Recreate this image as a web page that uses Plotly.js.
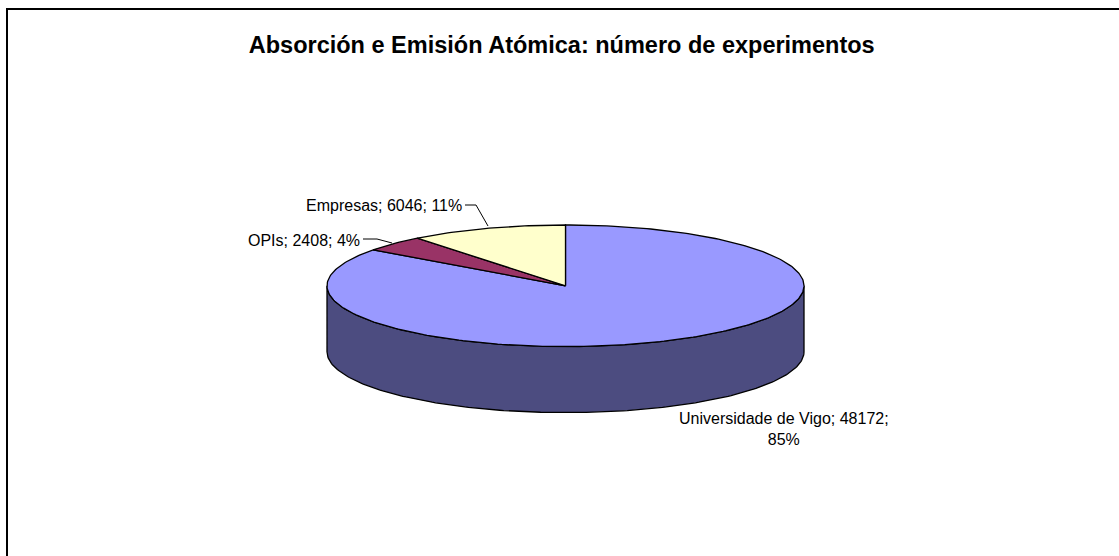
<!DOCTYPE html>
<html>
<head>
<meta charset="utf-8">
<script src="https://cdn.plot.ly/plotly-3.0.1.min.js"></script>
<style>html,body{margin:0;padding:0;background:#fff;}#chart{width:1119px;height:556px;}</style>
</head>
<body>
<div id="chart"></div>
<script>
// ---- data ----
const categories = ['Universidade de Vigo', 'OPIs', 'Empresas'];
const values = [48172, 2408, 6046];
const titleText = 'Absorción e Emisión Atómica: número de experimentos';

// ---- style / geometry ----
const topColors = ['#9999FF', '#993366', '#FFFFCC'];
const sideColors = ['#4C4C80', '#4D1A33', '#80806A'];
const CX = 565.5, CY = 285.8, RX = 238.5, RY = 60.8, DEPTH = 66;
const FONT = 'Liberation Sans, Arial, sans-serif';

function pt(theta, dy) {
  const r = theta * Math.PI / 180;
  return [CX + RX * Math.sin(r), CY - RY * Math.cos(r) + (dy || 0)];
}
function arc(a0, a1, dy) {
  const n = Math.max(2, Math.ceil(Math.abs(a1 - a0) / 1));
  const xs = [], ys = [];
  for (let i = 0; i <= n; i++) {
    const p = pt(a0 + (a1 - a0) * i / n, dy);
    xs.push(p[0]); ys.push(p[1]);
  }
  return [xs, ys];
}

const total = values.reduce((a, b) => a + b, 0);
const starts = [], ends = [];
let acc = 0;
values.forEach(v => { starts.push(acc / total * 360); acc += v; ends.push(acc / total * 360); });

const traces = [];
// sides (front half: 90..270 deg)
values.forEach((v, i) => {
  const s = Math.max(starts[i], 90), e = Math.min(ends[i], 270);
  if (e <= s) return;
  const [tx, ty] = arc(s, e, 0);
  const [bx, by] = arc(e, s, DEPTH);
  traces.push({
    type: 'scatter', mode: 'lines', x: tx.concat(bx, [tx[0]]), y: ty.concat(by, [ty[0]]),
    fill: 'toself', fillcolor: sideColors[i], line: {color: '#000', width: 1.3},
    hoverinfo: 'skip', showlegend: false
  });
});
// top faces
values.forEach((v, i) => {
  const [ax, ay] = arc(starts[i], ends[i], 0);
  traces.push({
    type: 'scatter', mode: 'lines', x: [CX].concat(ax, [CX]), y: [CY].concat(ay, [CY]),
    fill: 'toself', fillcolor: topColors[i], line: {color: '#000', width: 1.3},
    hoverinfo: 'skip', showlegend: false
  });
});

function label(i) {
  const pct = Math.round(values[i] / total * 100);
  return categories[i] + '; ' + values[i] + '; ' + pct + '%';
}
const u = label(0).split('; ');
const LFS = 16;
const annotations = [
  {x: 784, y: 429, xref: 'x', yref: 'y', showarrow: false, xanchor: 'center', yanchor: 'middle', align: 'center',
   text: u[0] + '; ' + u[1] + ';<br>' + u[2], font: {family: FONT, size: LFS, color: '#000'}},
  {x: 464, y: 205, xref: 'x', yref: 'y', showarrow: false, xanchor: 'right', yanchor: 'middle',
   text: label(2), font: {family: FONT, size: LFS, color: '#000'}},
  {x: 362, y: 240, xref: 'x', yref: 'y', showarrow: false, xanchor: 'right', yanchor: 'middle',
   text: label(1), font: {family: FONT, size: LFS, color: '#000'}}
];

const shapes = [
  {type: 'rect', xref: 'x', yref: 'y', x0: 7, y0: 9, x1: 1130, y1: 570, line: {color: '#000', width: 2}, fillcolor: 'rgba(0,0,0,0)', layer: 'below'},
  {type: 'path', xref: 'x', yref: 'y', path: 'M 465,205 L 476,205 L 488,226', line: {color: '#000', width: 1}},
  {type: 'path', xref: 'x', yref: 'y', path: 'M 363,239 L 377,239 L 392,243', line: {color: '#000', width: 1}}
];

const layout = {
  width: 1119, height: 556,
  margin: {l: 0, r: 0, t: 0, b: 0, pad: 0},
  paper_bgcolor: '#fff', plot_bgcolor: '#fff',
  title: {text: '<b>' + titleText + '</b>', x: 0.502, xref: 'container', xanchor: 'center',
          y: 1 - 45 / 556, yref: 'container', yanchor: 'middle',
          font: {family: FONT, size: 23.5, color: '#000'}},
  xaxis: {range: [0, 1119], visible: false, fixedrange: true},
  yaxis: {range: [556, 0], visible: false, fixedrange: true},
  showlegend: false,
  annotations: annotations,
  shapes: shapes
};

Plotly.newPlot('chart', traces, layout, {displayModeBar: false, staticPlot: true});
</script>
</body>
</html>
